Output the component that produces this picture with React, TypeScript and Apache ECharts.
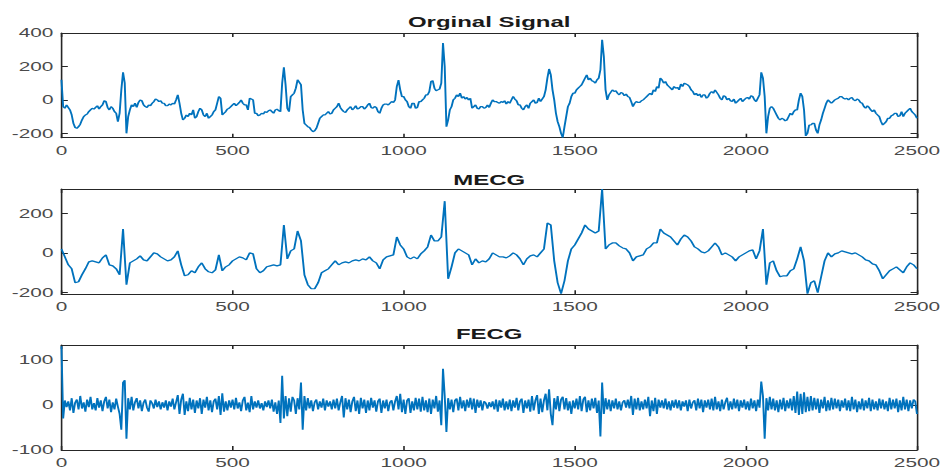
import React, { useEffect, useRef } from 'react';
import * as echarts from 'echarts';

// ---- data ----
const ORIGINAL_STEP = 5; // Original sampled every 5 samples
const MECG_STEP = 10; // MECG sampled every 10 samples
const FECG_STEP = 5; // FECG sampled every 5 samples
const X_MAX = 2500;
const X_INTERVAL = 500;

const titles = ['Orginal Signal', 'MECG', 'FECG'];

const originalSignal = [
  120, -40, -50, -30, -45, -60, -90, -140, -165, -170, -160, -145, -120, -100, -90, -85, -70, -60, -50, -55,
  -45, -35, -55, -40, -30, -5, -10, -45, -60, -40, -50, -70, -80, -130, -80, 60, 165, 100, -200, -100,
  -60, -30, -40, -20, -45, -15, 0, -5, -30, -40, -45, -30, -35, -20, -10, 5, 0, -10, -5, -20,
  -20, -35, -35, -25, -30, -20, -25, 0, 30, -20, -80, -120, -110, -90, -100, -80, -90, -60, -110, -100,
  -70, -50, -60, -90, -100, -80, -110, -100, -90, -70, -60, -20, 20, 10, -90, -80, -70, -55, -50, -40,
  -30, -20, -35, -25, -15, 0, -20, -30, -30, -60, 10, 5, 0, -80, -80, -95, -90, -80, -85, -70,
  -75, -65, -60, -70, -80, -60, -55, -65, -70, 100, 195, 90, -50, -70, 20, 30, 40, 70, 120, 105,
  90, -60, -140, -150, -160, -165, -180, -190, -185, -170, -140, -110, -100, -90, -90, -80, -70, -85, -80, -60,
  -50, -40, -20, -45, -60, -70, -75, -60, -50, -40, -60, -50, -35, -55, -50, -40, -40, -55, -45, -30,
  -20, -45, -50, -40, -45, -70, -80, -50, -30, -25, -25, -30, -20, -10, -15, 0, 80, 118, 60, 20,
  20, 0, -10, -40, -50, -20, -20, -50, -45, -10, -10, 0, 10, 30, 30, 50, 110, 115, 70, 55,
  60, 65, 100, 340, 200, -160, -120, -60, -40, 0, 10, 30, 20, 40, 10, 20, 5, 15, 0, 10,
  -50, -40, -30, -50, -55, -40, -40, -50, -45, -30, -45, -20, 0, -10, -10, -15, -20, -10, -15, -5,
  -25, -10, -20, 0, 20, 5, -5, -30, -30, -50, -60, -40, -30, -50, -20, -10, 0, -20, -15, 10,
  -10, 5, 20, 60, 130, 185, 150, 60, 0, -80, -130, -160, -200, -225, -160, -100, -40, -20, 20, 40,
  40, 60, 70, 80, 90, 110, 130, 150, 120, 130, 115, 110, 100, 120, 130, 180, 360, 260, 60, 0,
  30, 45, 60, 50, 55, 40, 30, 45, 40, 25, 35, 20, 15, -10, -40, -20, -10, -15, -15, -5,
  0, 10, 20, 30, 40, 30, 60, 50, 80, 70, 130, 120, 100, 110, 90, 80, 70, 60, 80, 70,
  75, 60, 95, 80, 100, 95, 90, 80, 60, 50, 30, 40, 25, 35, 15, 30, 30, 10, 20, 40,
  50, 40, 60, 45, 30, 10, 0, 25, 20, 0, 10, -5, -10, 5, -20, -10, 0, 10, -10, 0,
  10, 15, 5, 25, 20, 0, -10, 10, 30, 165, 130, 20, -200, -100, -50, -40, -50, -70, -90, -110,
  -120, -110, -115, -125, -120, -100, -80, -90, -70, -60, -60, 0, 40, 20, -60, -215, -200, -150, -150, -140,
  -140, -180, -200, -150, -120, -80, -50, -20, 0, -10, -20, -10, 0, 5, 10, 20, 20, 10, 5, 10,
  0, 10, 15, 0, -5, 5, 0, -15, -20, -40, -50, -35, -45, -60, -70, -60, -80, -90, -100, -130,
  -150, -140, -130, -110, -110, -95, -90, -80, -80, -100, -95, -70, -100, -80, -70, -60, -50, -70, -80, -90,
  -110,
];

const mecgSignal = [
  20, -20, -60, -80, -150, -145, -110, -80, -45, -40,
  -45, -50, -25, -10, -60, -65, -80, -110, 120, -160,
  -50, -40, -30, -15, -35, -40, -20, 0, -5, -20,
  -30, -40, -35, -20, 10, -60, -115, -110, -90, -100,
  -70, -50, -80, -95, -100, -85, -10, -90, -70, -60,
  -40, -30, -20, -25, -35, 0, -5, -80, -100, -90,
  -70, -65, -60, -65, -60, 140, -30, 10, 20, 110,
  60, -110, -160, -180, -180, -150, -100, -90, -80, -60,
  -40, -60, -50, -45, -50, -40, -35, -40, -30, -35,
  -20, -40, -50, -80, -35, -20, -15, -10, 80, 40,
  20, -20, -30, -20, -30, -5, 10, 30, 90, 60,
  60, 80, 260, -130, -70, 0, 20, 10, 0, -10,
  -60, -30, -50, -40, -45, -30, 0, -10, -20, -20,
  -25, -15, 0, -10, -30, -60, -30, -15, -10, -20,
  0, 20, 150, 140, -40, -150, -205, -140, -40, 20,
  40, 70, 100, 140, 120, 110, 100, 110, 321, 20,
  40, 50, 50, 35, 25, 20, 0, -40, -20, -15,
  -10, 20, 30, 50, 50, 120, 100, 90, 80, 60,
  40, 70, 90, 80, 60, 30, 20, 5, 0, 10,
  30, 50, 30, -10, 0, -10, -20, -40, -20, -10,
  0, 10, 15, -30, 10, 120, -160, -50, -40, -90,
  -120, -115, -115, -90, -80, -30, 30, -40, -205, -150,
  -140, -200, -120, -40, 0, -20, -5, 0, 10, 5,
  0, -5, 0, -10, -20, -35, -40, -55, -60, -90,
  -130, -110, -90, -80, -70, -85, -100, -70, -50, -60,
  -80,
];

const fecgSignal = [
  130, -30, 10, -5, 8, -12, 15, -18, 5, 12, -10, 20, -8, 6, -15, 12, -5, 18, -10, 4,
  -12, 15, -6, 10, -14, 8, 18, -8, 12, -16, 6, -10, 14, -4, -20, -55, 50, 55, -75, 15,
  -10, 18, -12, 6, 15, -8, 10, -14, 5, 12, -6, -15, 10, 4, -8, 12, -5, 8, -10, 6,
  -6, 10, -12, 8, -4, 14, -10, 6, 22, -20, 12, 25, -22, 8, -14, 16, -10, 12, -18, 10,
  -8, 15, -20, 12, -6, 18, -12, 10, -16, 8, 14, -10, 20, -22, 26, -15, 8, -12, 10, -6,
  12, -10, 16, -8, 6, -14, 10, 18, -12, 5, -16, 20, -10, 8, -6, 10, -8, 4, -12, 8,
  -5, 10, -8, 12, -15, 6, -20, 10, -40, 65, -30, 20, -25, 15, -15, 18, 10, -20, 15, -10,
  50, -55, 20, -12, 15, -8, 10, -14, 6, 12, -10, 8, -6, 14, -12, 10, -4, 8, -10, 12,
  -8, 14, -12, 6, 20, -28, 15, -10, 12, -16, 8, 18, -14, 10, -20, 16, -8, 12, -18, 10,
  -12, 16, -6, 10, -15, 8, 14, -18, 10, -8, 12, -14, 6, 10, -12, 8, 20, -10, 25, -16,
  12, -20, 10, 15, -18, 8, -12, 16, -10, 14, -15, 18, -12, 10, -16, 14, -20, 12, -8, 20,
  -15, 10, -45, 80, 20, -60, 15, -10, 12, -16, 10, 14, -12, 18, -8, 10, -14, 12, -6, 16,
  -10, 14, -18, 12, -6, 10, -12, 8, 4, -8, 6, -5, 8, -10, 12, -15, 10, -6, 14, -12,
  8, -10, 12, -14, 10, -6, 16, -12, 8, 14, -18, 10, -8, 12, -15, 20, -12, 10, 22, -20,
  14, -16, 10, 25, -12, 35, -20, -45, 15, -10, 20, -14, 12, 18, -10, 15, -12, 8, -20, 10,
  -8, 14, -10, 20, -14, 12, 18, -16, 10, -12, 14, -8, 16, -18, 10, -70, 50, -20, 15, -10,
  12, -14, 10, -8, 14, -10, 8, -12, 6, 10, -6, 12, -8, 20, -22, 14, -10, 16, -12, 8,
  -10, 12, -8, 18, -25, 10, -14, 16, -20, 12, -6, 10, -8, 14, -10, 8, -12, 10, -6, 12,
  -8, 10, -12, 8, -4, 10, -14, 12, -8, 6, 10, -12, 14, -8, 12, -16, 10, -6, 12, -10,
  14, -12, 18, -10, 8, -14, 12, -10, 6, 16, -12, 8, -10, 14, -8, 12, -14, 10, -6, 12,
  -10, 8, -12, 14, -8, 10, -14, 12, -6, 52, 20, -75, 15, -12, 18, -10, 14, -12, 10, -16,
  12, -10, 16, -14, 10, -8, 14, -12, 20, -18, 30, -22, 25, -20, 28, -16, 18, -14, 20, -12,
  16, -10, 14, -18, 12, -8, 18, -14, 10, -12, 16, -10, 14, -8, 12, -14, 10, -6, 14, -12,
  10, -14, 18, -10, 12, -16, 8, -10, 14, -12, 10, -8, 16, -14, 12, -10, 8, -12, 14, -8,
  12, -10, 8, -14, 16, -10, 12, -8, 14, -16, 10, -12, 18, -10, 12, -14, 10, -8, 12, 8,
  -20,
];

const yTickValues = [
  [-200, 0, 200, 400],
  [-200, 0, 200],
  [-100, 0, 100],
];
const yRanges = [
  [-226, 400],
  [-208, 321],
  [-100, 133],
];

// ---- layout (unscaled coordinates; whole chart stretched horizontally) ----
const SCALE_X = 1.6;
const W = 595;
const H = 470;
const GRID_LEFT = 38.4;
const GRID_RIGHT = 21.9;
const gridTops = [33, 189, 345];
const gridHeights = [104.7, 105.3, 105];
const titleYs = [22, 180, 334];

const LINE_COLOR = '#0072BD';
const AXIS_COLOR = '#262626';
const LABEL_COLOR = '#4a4a4a';
const FONT = '"Liberation Sans", Arial, Helvetica, sans-serif';

function toPairs(values: number[], step: number) {
  return values.map((v, i) => [i * step, v]);
}

export default function App() {
  const ref = useRef<HTMLDivElement>(null);

  useEffect(() => {
    if (!ref.current) return;
    const chart = echarts.init(ref.current, null, { renderer: 'svg' });

    const seriesData = [
      toPairs(originalSignal, ORIGINAL_STEP),
      toPairs(mecgSignal, MECG_STEP),
      toPairs(fecgSignal, FECG_STEP),
    ];

    const grids: any[] = [];
    const xAxes: any[] = [];
    const yAxes: any[] = [];
    const series: any[] = [];
    const graphics: any[] = [];
    const plotWidth = W - GRID_LEFT - GRID_RIGHT;

    for (let i = 0; i < 3; i++) {
      grids.push({
        left: GRID_LEFT,
        right: GRID_RIGHT,
        top: gridTops[i],
        height: gridHeights[i],
        containLabel: false,
      });
      const axisLine = { show: true, onZero: false, lineStyle: { color: AXIS_COLOR, width: 1 } };
      const tick = { show: true, inside: true, length: 4, lineStyle: { color: AXIS_COLOR, width: 1 } };
      xAxes.push({
        type: 'value',
        gridIndex: i,
        position: 'bottom',
        min: 0,
        max: X_MAX,
        interval: X_INTERVAL,
        axisLine,
        axisTick: tick,
        axisLabel: {
          show: true,
          color: LABEL_COLOR,
          fontSize: 13,
          fontFamily: FONT,
          margin: 6,
          formatter: (v: number) => String(v),
        },
        splitLine: { show: false },
      });
      xAxes.push({
        type: 'value',
        gridIndex: i,
        position: 'top',
        min: 0,
        max: X_MAX,
        interval: X_INTERVAL,
        axisLine,
        axisTick: tick,
        axisLabel: { show: false },
        splitLine: { show: false },
      });
      yAxes.push({
        type: 'value',
        gridIndex: i,
        position: 'left',
        min: yRanges[i][0],
        max: yRanges[i][1],
        axisLine,
        axisTick: { ...tick, customValues: yTickValues[i] },
        axisLabel: {
          show: true,
          color: LABEL_COLOR,
          fontSize: 13,
          fontFamily: FONT,
          margin: 5,
          customValues: yTickValues[i],
          formatter: (v: number) => String(v),
        },
        splitLine: { show: false },
      });
      yAxes.push({
        type: 'value',
        gridIndex: i,
        position: 'right',
        min: yRanges[i][0],
        max: yRanges[i][1],
        axisLine,
        axisTick: { ...tick, customValues: yTickValues[i] },
        axisLabel: { show: false, customValues: yTickValues[i] },
        splitLine: { show: false },
      });
      series.push({
        type: 'line',
        name: titles[i],
        xAxisIndex: i * 2,
        yAxisIndex: i * 2,
        data: seriesData[i],
        showSymbol: false,
        symbol: 'none',
        silent: true,
        clip: true,
        lineStyle: { color: LINE_COLOR, width: 1.2 },
      });
      graphics.push({
        type: 'text',
        x: GRID_LEFT + plotWidth / 2,
        y: titleYs[i],
        style: {
          text: titles[i],
          fill: '#1a1a1a',
          font: `bold 15px ${FONT}`,
          align: 'center',
          verticalAlign: 'middle',
        },
      });
    }

    chart.setOption({
      animation: false,
      backgroundColor: '#ffffff',
      grid: grids,
      xAxis: xAxes,
      yAxis: yAxes,
      series,
      graphic: graphics,
    });

    return () => chart.dispose();
  }, []);

  return (
    <div
      ref={ref}
      style={{
        position: 'absolute',
        left: 0,
        top: 0,
        width: W,
        height: H,
        transform: `scaleX(${SCALE_X})`,
        transformOrigin: '0 0',
        background: '#fff',
      }}
    />
  );
}
